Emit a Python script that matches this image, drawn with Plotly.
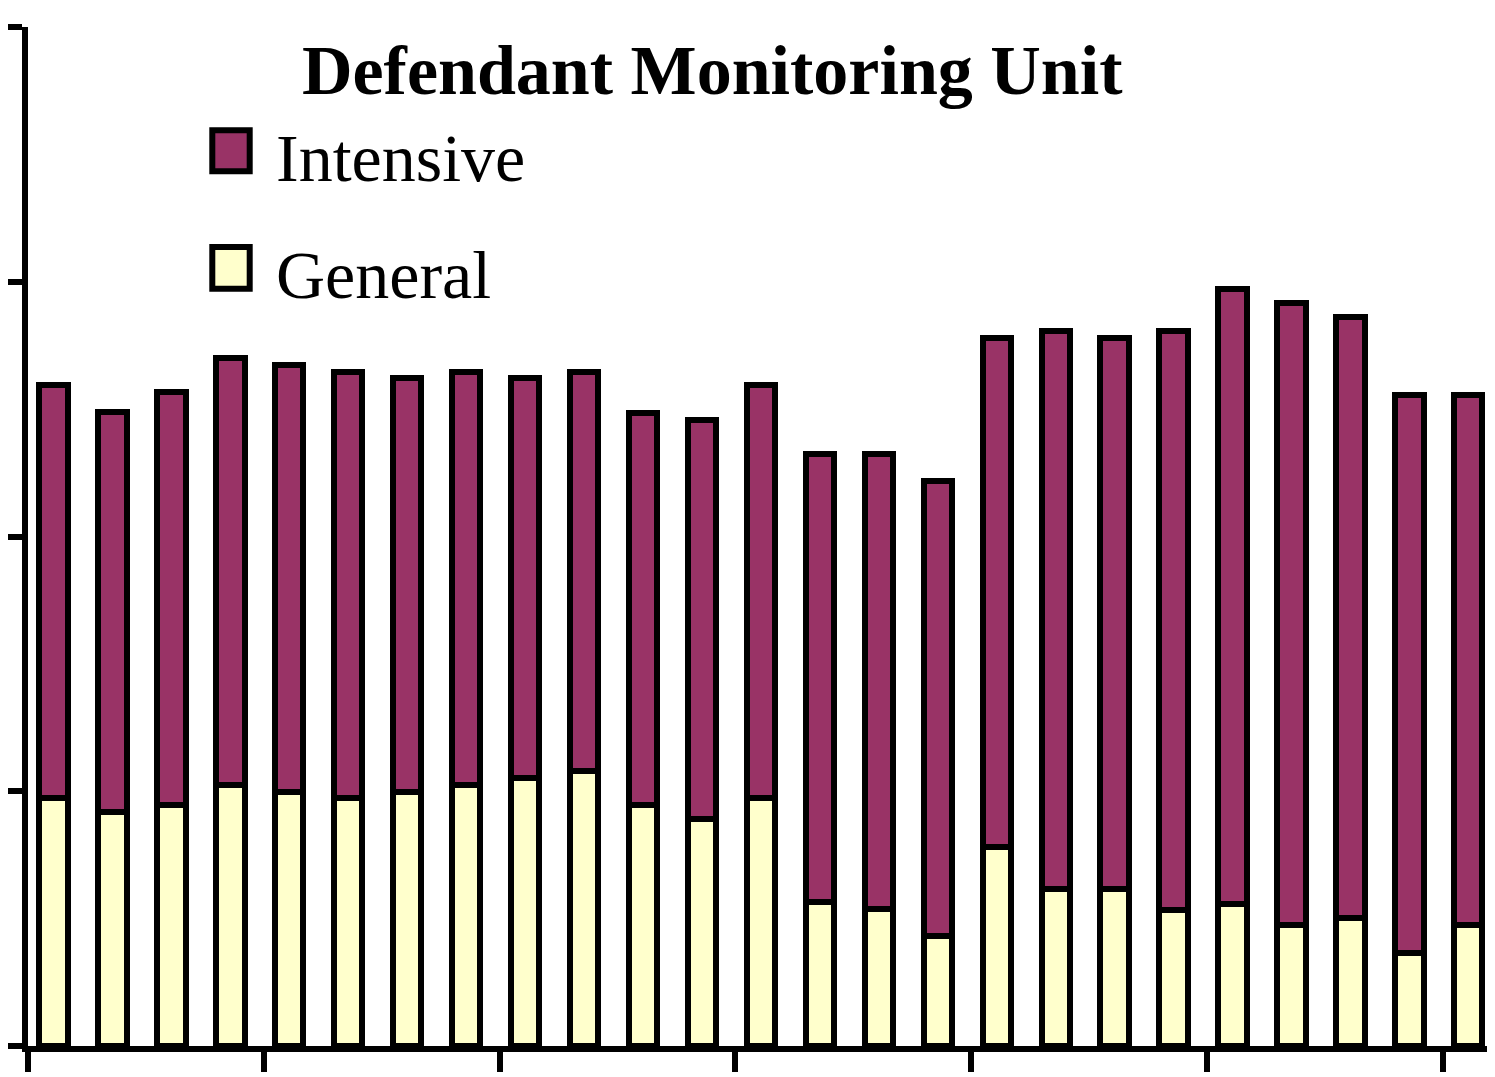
import plotly.graph_objects as go

# ---- data (y units: one axis tick step = 100) ----
periods = list(range(1, 26))
totals = [259.4, 248.8, 256.7, 270.2, 267.5, 264.7, 262.2, 264.7, 262.2, 264.7,
          248.6, 245.9, 259.4, 232.3, 232.3, 221.7, 278.0, 280.6, 278.0, 280.6,
          297.2, 291.6, 286.1, 255.7, 255.7]
general = [97.3, 91.8, 94.5, 102.6, 99.9, 97.3, 99.9, 102.6, 105.3, 108.1,
           94.5, 89.2, 97.3, 56.7, 53.9, 43.1, 78.0, 61.5, 61.5, 53.2,
           55.9, 47.6, 50.4, 36.4, 47.6]
intensive = [round(t - g, 1) for t, g in zip(totals, general)]

series_names = ["Intensive", "General"]
series_colors = ["#993366", "#FFFFCC"]
title_text = "Defendant Monitoring Unit"

# page body has an 8px margin, so the figure starts at (8, 8) in the window
OFF = 8
W, H = 1495 - OFF, 1077 - OFF
ML, MR, MT, MB = 28 - OFF, 0, 27 - OFF, 31
PW, PH = W - ML - MR, H - MT - MB


def px(x):
    # window pixel x -> paper coordinate
    return (x - OFF - ML) / PW


def py(y):
    # window pixel y -> paper coordinate
    return 1 - (y - OFF - MT) / PH


fig = go.Figure()
fig.add_trace(go.Bar(x=periods, y=general, name=series_names[1],
                     marker=dict(color=series_colors[1], line=dict(color="black", width=6)),
                     width=0.48))
fig.add_trace(go.Bar(x=periods, y=intensive, name=series_names[0],
                     marker=dict(color=series_colors[0], line=dict(color="black", width=6)),
                     width=0.48))

serif = "Liberation Serif, Times New Roman, serif"

# custom legend (large swatches like the reference)
swatches = [(130.3, 171.3), (247.0, 288.7)]
label_mid = [158.0, 275.0]
for (y0, y1), name, col, ym in zip(swatches, series_names, series_colors, label_mid):
    fig.add_shape(type="rect", xref="paper", yref="paper",
                  x0=px(212.3), x1=px(249.7), y0=py(y1), y1=py(y0),
                  fillcolor=col, line=dict(color="black", width=6))
    fig.add_annotation(text=name, xref="paper", yref="paper", x=px(274), y=py(ym),
                       xanchor="left", yanchor="middle", showarrow=False,
                       font=dict(family=serif, size=68, color="black"))

fig.add_annotation(text="<b>" + title_text + "</b>", xref="paper", yref="paper",
                   x=px(712), y=py(70), xanchor="center", yanchor="middle", showarrow=False,
                   font=dict(family=serif, size=70, color="black"))

fig.update_layout(
    barmode="stack",
    width=W, height=H,
    margin=dict(l=ML, r=MR, t=MT, b=MB, pad=0),
    paper_bgcolor="white", plot_bgcolor="white",
    showlegend=False,
)
fig.update_xaxes(range=[0.567, 0.567 + PW / 58.95], tickmode="linear", tick0=0.567, dtick=4,
                 showticklabels=False, ticks="outside", ticklen=20, tickwidth=6, tickcolor="black",
                 showline=True, linecolor="black", linewidth=6, showgrid=False, zeroline=False)
fig.update_yaxes(range=[0, 400], tickmode="linear", tick0=0, dtick=100,
                 showticklabels=False, ticks="outside", ticklen=20, tickwidth=6, tickcolor="black",
                 showline=True, linecolor="black", linewidth=6, showgrid=False, zeroline=False)

fig.write_html("out.html")
